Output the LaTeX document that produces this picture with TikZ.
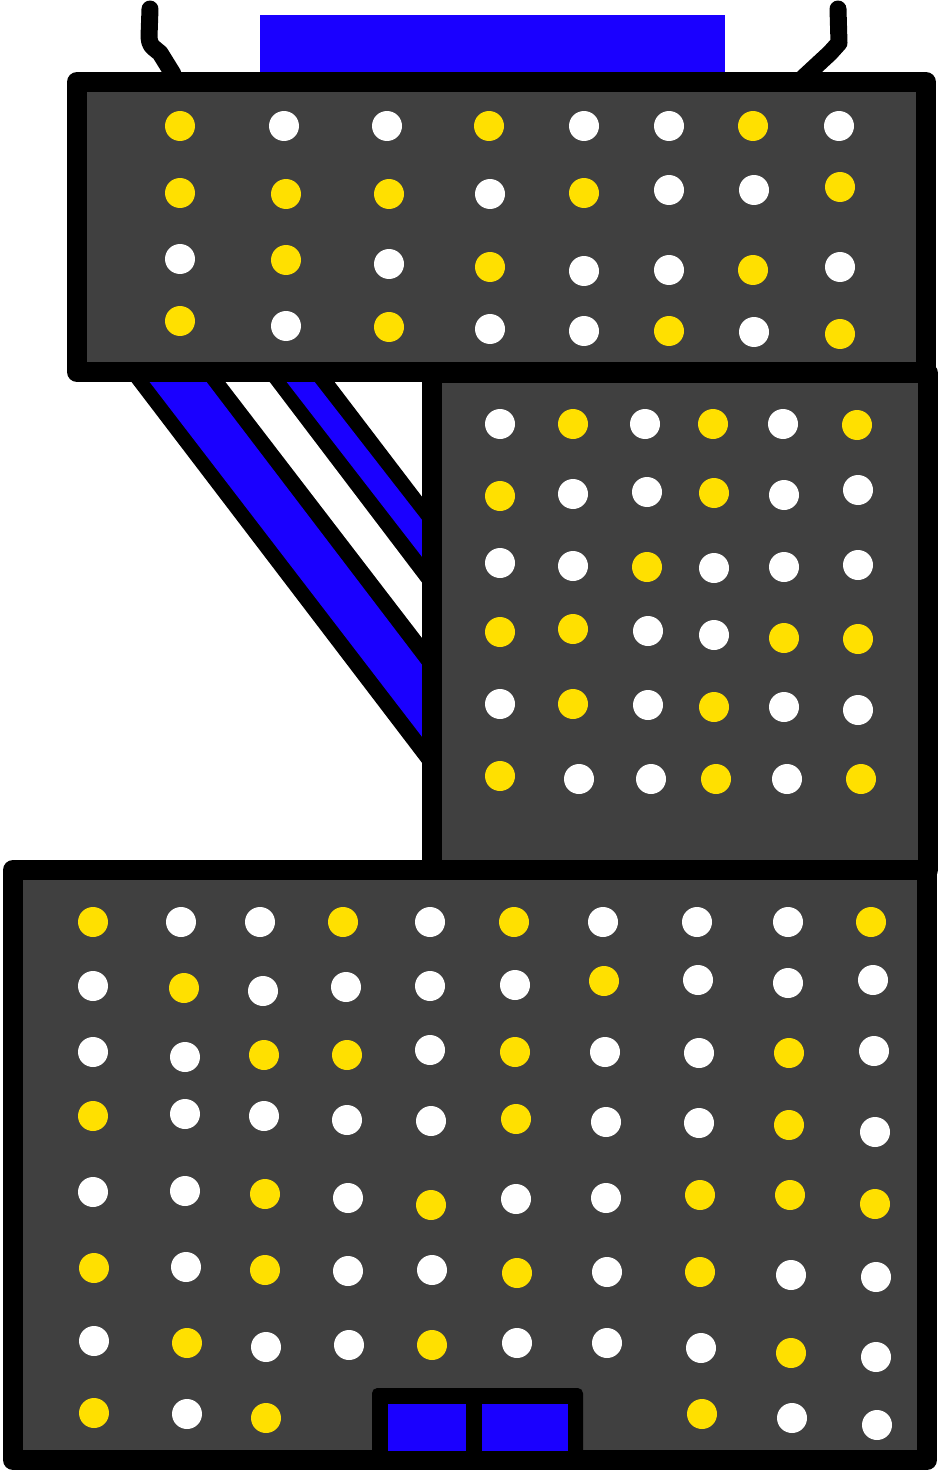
\documentclass[tikz,border=0pt]{standalone}
\usepackage{tikz}
\definecolor{corAzul}{RGB}{26, 0, 255}
\definecolor{corAmarelo}{RGB}{255, 224, 0}
\definecolor{corPainel}{RGB}{64, 64, 64}

\begin{document}
\begin{tikzpicture}[
    x=0.02cm, y=-0.02cm,
    panel/.style={
        fill=corPainel, draw=black,
        line width=0.4cm, line join=round
    },
    cabo/.style={draw=black, line width=0.34cm, line cap=round, line join=round},
    ydot/.style={fill=corAmarelo},
    wdot/.style={fill=white}
]
\useasboundingbox (0,0) rectangle (940,1470);

% cabos e tampa azul
\draw[cabo] (150,9) -- (149,37) .. controls (150,45) .. (160,53) -- (173,74);
\draw[cabo] (838,9) -- (839,43) -- (830,53) -- (803,78);
\fill[corAzul] (260,15) rectangle (725,75);

% faixas diagonais
\fill[black] (127,376) -- (330,376) -- (426,502) -- (426,768) -- cycle;
\fill[corAzul] (145,376) -- (202,376) -- (426,670) -- (426,742) -- cycle;
\fill[white] (221,376) -- (265,376) -- (426,588) -- (426,643) -- cycle;
\fill[corAzul] (282,376) -- (310,376) -- (426,525) -- (426,562) -- cycle;

% paineis
\draw[panel] (77,82) rectangle (926,372);
\draw[panel] (432,373) rectangle (928,870);
\draw[panel] (13,870) rectangle (927,1460);

% pontos do painel de cima
\foreach \x/\y/\c in {
    180/126/ydot, 284/126/wdot, 387/126/wdot, 489/126/ydot, 584/126/wdot, 669/126/wdot, 753/126/ydot, 839/126/wdot,
    180/193/ydot, 286/194/ydot, 389/194/ydot, 490/194/wdot, 584/193/ydot, 669/190/wdot, 754/190/wdot, 840/187/ydot,
    180/259/wdot, 286/260/ydot, 389/264/wdot, 490/267/ydot, 584/271/wdot, 669/270/wdot, 753/270/ydot, 840/267/wdot,
    180/321/ydot, 286/326/wdot, 389/327/ydot, 490/329/wdot, 584/331/wdot, 669/331/ydot, 754/332/wdot, 840/334/ydot}
    \fill[\c] (\x,\y) circle[radius=0.3cm];

% pontos do painel do meio
\foreach \x/\y/\c in {
    500/424/wdot, 573/424/ydot, 645/424/wdot, 713/424/ydot, 783/424/wdot, 857/425/ydot,
    500/496/ydot, 573/494/wdot, 647/492/wdot, 714/493/ydot, 784/495/wdot, 858/490/wdot,
    500/563/wdot, 573/566/wdot, 647/567/ydot, 714/568/wdot, 784/567/wdot, 858/565/wdot,
    500/632/ydot, 573/629/ydot, 648/631/wdot, 714/635/wdot, 784/638/ydot, 858/639/ydot,
    500/704/wdot, 573/704/ydot, 648/705/wdot, 714/707/ydot, 784/707/wdot, 858/710/wdot,
    500/776/ydot, 579/779/wdot, 651/779/wdot, 716/779/ydot, 787/779/wdot, 861/779/ydot}
    \fill[\c] (\x,\y) circle[radius=0.3cm];

% pontos do painel de baixo
\foreach \x/\y/\c in {
    93/922/ydot, 181/922/wdot, 260/922/wdot, 343/922/ydot, 430/922/wdot, 514/922/ydot, 603/922/wdot, 697/922/wdot, 788/922/wdot, 871/922/ydot,
    93/986/wdot, 184/988/ydot, 263/991/wdot, 346/987/wdot, 430/986/wdot, 515/985/wdot, 604/981/ydot, 698/980/wdot, 788/983/wdot, 873/980/wdot,
    93/1052/wdot, 185/1057/wdot, 264/1055/ydot, 347/1055/ydot, 430/1050/wdot, 515/1052/ydot, 605/1052/wdot, 699/1053/wdot, 789/1053/ydot, 874/1051/wdot,
    93/1116/ydot, 185/1114/wdot, 264/1116/wdot, 347/1120/wdot, 431/1121/wdot, 516/1119/ydot, 606/1122/wdot, 699/1123/wdot, 789/1125/ydot, 875/1132/wdot,
    93/1192/wdot, 185/1191/wdot, 265/1194/ydot, 348/1198/wdot, 431/1205/ydot, 516/1199/wdot, 606/1198/wdot, 700/1195/ydot, 790/1195/ydot, 875/1204/ydot,
    94/1268/ydot, 186/1267/wdot, 265/1270/ydot, 348/1271/wdot, 432/1270/wdot, 517/1273/ydot, 607/1272/wdot, 700/1272/ydot, 791/1275/wdot, 876/1277/wdot,
    94/1341/wdot, 187/1343/ydot, 266/1347/wdot, 349/1345/wdot, 432/1345/ydot, 517/1343/wdot, 607/1343/wdot, 701/1348/wdot, 791/1353/ydot, 876/1357/wdot,
    94/1413/ydot, 187/1414/wdot, 266/1418/ydot, 702/1414/ydot, 792/1418/wdot, 877/1425/wdot}
    \fill[\c] (\x,\y) circle[radius=0.3cm];

% portas azuis
\fill[black, rounded corners=3pt] (372,1455) -- (372,1388) -- (583,1388) -- (583,1455) -- cycle;
\fill[corAzul] (388,1404) rectangle (466,1451);
\fill[corAzul] (482,1404) rectangle (568,1451);

\end{tikzpicture}
\end{document}
